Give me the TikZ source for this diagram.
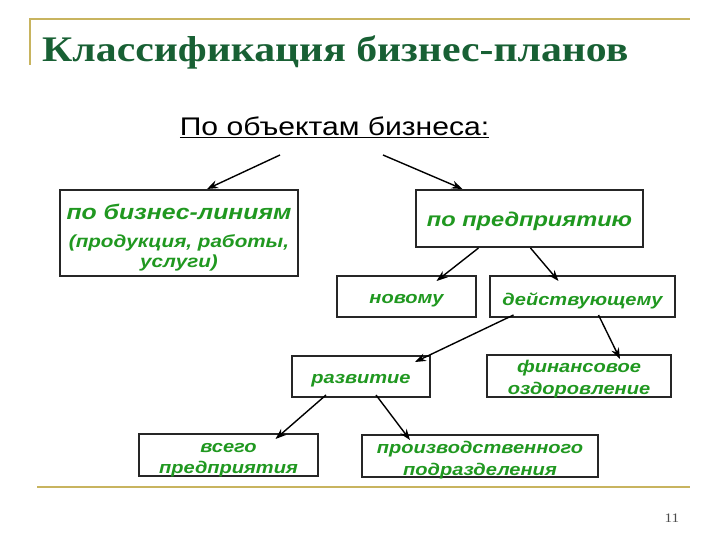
\documentclass[tikz,border=0pt]{standalone}
\usepackage{fontspec}
\setmainfont{Liberation Serif}[FakeStretch=1.16]
\newfontfamily\arialfont{Liberation Sans}[FakeStretch=1.18]
\usetikzlibrary{arrows.meta,calc}
\definecolor{titlegreen}{RGB}{24,96,52}
\definecolor{textgreen}{RGB}{32,152,32}
\definecolor{gold}{RGB}{200,180,95}
\tikzset{
  box/.style={draw=black!85, line width=2pt, fill=white, inner sep=0pt},
  txt/.style={align=center, inner sep=0pt, text=textgreen,
    font=\arialfont\bfseries\itshape\fontsize{17}{21.5}\selectfont},
  arr/.style={-{Stealth[length=11pt,width=8pt]}, line width=1.4pt, black},
  deco/.style={gold, line width=2pt}
}
\begin{document}
\begin{tikzpicture}[x=1pt,y=-1pt]
\useasboundingbox (0,0) rectangle (720,540);
% decorative lines
\coordinate (tl) at (30,65);
\coordinate (tc) at (30,19);
\coordinate (tr) at (690,19);
\coordinate (bl) at (37,487);
\coordinate (br) at (690,487);
\draw[deco] (tl) -- (tc) -- (tr);
\draw[deco] (bl) -- (br);
% title
\node[anchor=base west, inner sep=0, text=titlegreen, font=\fontsize{36}{40}\selectfont\bfseries] (title) at (42,62) {Классификация бизнес-планов};
% subtitle
\node[anchor=base, inner sep=0, font=\arialfont\fontsize{25.5}{28}\selectfont] (sub) at (334.5,136) {\underline{По объектам бизнеса:}};
% page number
\node[anchor=base, inner sep=0, font=\fontsize{13}{15}\selectfont, text=black!70] (pn) at (672,522) {11};
% boxes
\node[box, minimum width=238pt, minimum height=86pt] (b1) at (179,233) {};
\node[box, minimum width=227pt, minimum height=57pt] (b2) at (529.5,218.5) {};
\node[box, minimum width=139pt, minimum height=41pt] (n1) at (406.5,296.5) {};
\node[box, minimum width=185pt, minimum height=41pt] (n2) at (582.5,296.5) {};
\node[box, minimum width=138pt, minimum height=41pt] (r1) at (361,376.5) {};
\node[box, minimum width=184pt, minimum height=42pt] (r2) at (579,376) {};
\node[box, minimum width=179pt, minimum height=42pt] (s1) at (228.5,455) {};
\node[box, minimum width=236pt, minimum height=42pt] (s2) at (480,456) {};
% texts
\node[txt, font=\arialfont\bfseries\itshape\fontsize{17.5}{20}\selectfont] (b1t) at ([yshift=-5pt]b1.center)
  {{\fontsize{21}{24}\selectfont по бизнес-линиям}\\[8pt](продукция, работы,\\услуги)};
\node[txt, font=\arialfont\bfseries\itshape\fontsize{20}{23}\selectfont] (b2t) at ([yshift=-3pt]b2.center) {по предприятию};
\node[txt] (n1t) at ([yshift=-4pt]n1.center) {новому};
\node[txt] (n2t) at ([yshift=-4pt]n2.center) {действующему};
\node[txt] (r1t) at ([yshift=-4pt]r1.center) {развитие};
\node[txt] (r2t) at ([yshift=-3pt]r2.center) {финансовое\\оздоровление};
\node[txt] (s1t) at ([yshift=-5pt]s1.center) {всего\\предприятия};
\node[txt] (s2t) at ([yshift=-4pt]s2.center) {производственного\\подразделения};
% arrows
\coordinate (a1) at (280,155);
\coordinate (a2) at (383,155);
\draw[arr] (a1) -- ([xshift=28pt]b1.north);
\draw[arr] (a2) -- ([xshift=-67pt]b2.north);
\draw[arr] ([xshift=-51pt]b2.south) -- ([xshift=30pt,yshift=-6pt]n1.north);
\draw[arr] ([xshift=1pt]b2.south) -- ([xshift=-24pt,yshift=-6pt]n2.north);
\draw[arr] ([xshift=-69pt,yshift=3pt]n2.south) -- ([xshift=54pt,yshift=-7pt]r1.north);
\draw[arr] ([xshift=16pt,yshift=3pt]n2.south) -- ([xshift=41pt,yshift=-5pt]r2.north);
\draw[arr] ([xshift=-35pt,yshift=3pt]r1.south) -- ([xshift=47pt,yshift=-6pt]s1.north);
\draw[arr] ([xshift=15pt,yshift=3pt]r1.south) -- ([xshift=-70pt,yshift=-6pt]s2.north);
\end{tikzpicture}
\end{document}
